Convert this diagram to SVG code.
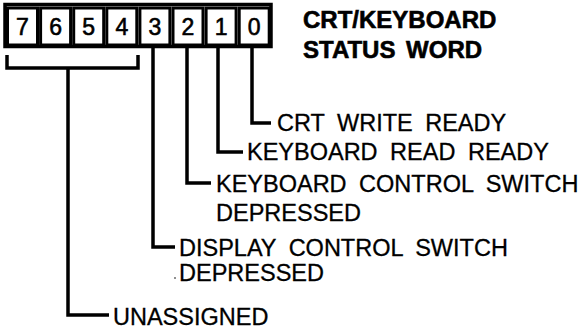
<svg xmlns="http://www.w3.org/2000/svg" width="586" height="331" viewBox="0 0 586 331">
<style>
.cell{fill:#fff;stroke:#000;stroke-width:3}
.digit{font-family:"Liberation Sans",Arial,sans-serif;font-size:23px;text-anchor:middle;fill:#000;stroke:#000;stroke-width:0.6}
.lbl{font-family:"Liberation Sans",Arial,sans-serif;font-size:23.5px;fill:#000;word-spacing:6px;stroke:#000;stroke-width:0.3}
.title{font-family:"Liberation Sans",Arial,sans-serif;font-size:24px;font-weight:bold;fill:#000;stroke:#000;stroke-width:0.6}
.wire{fill:none;stroke:#000;stroke-width:3.5}
</style>
<rect width="586" height="331" fill="#fff"/>
<g id="register">
<rect x="5" y="4.5" width="266" height="42" fill="#fff" stroke="#000" stroke-width="3.5"/>
<rect class="cell" x="7.5" y="8" width="30" height="37"/>
<rect class="cell" x="40.6" y="8" width="30" height="37"/>
<rect class="cell" x="73.7" y="8" width="30" height="37"/>
<rect class="cell" x="106.8" y="8" width="30" height="37"/>
<rect class="cell" x="139.9" y="8" width="30" height="37"/>
<rect class="cell" x="173" y="8" width="30" height="37"/>
<rect class="cell" x="206.1" y="8" width="30" height="37"/>
<rect class="cell" x="239.2" y="8" width="30" height="37"/>
<text class="digit" x="22.5" y="35">7</text>
<text class="digit" x="55.6" y="35">6</text>
<text class="digit" x="88.7" y="35">5</text>
<text class="digit" x="121.8" y="35">4</text>
<text class="digit" x="154.9" y="35">3</text>
<text class="digit" x="188" y="35">2</text>
<text class="digit" x="221.1" y="35">1</text>
<text class="digit" x="254.2" y="35">0</text>
</g>
<g id="title">
<text class="title" x="303" y="28">CRT/KEYBOARD</text>
<text class="title" x="303" y="58" style="word-spacing:4px">STATUS WORD</text>
</g>
<g id="connectors">
<path class="wire" d="M252,47 V123 H271"/>
<path class="wire" d="M218,47 V152 H243"/>
<path class="wire" d="M187,47 V183 H211"/>
<path class="wire" d="M153,47 V247 H175"/>
<path class="wire" d="M7,55 V68 H138 V55"/>
<path class="wire" d="M68,68 V315 H109"/>
</g>
<g id="bit0"><text class="lbl" x="277" y="131">CRT WRITE READY</text></g>
<g id="bit1"><text class="lbl" x="247" y="160">KEYBOARD READ READY</text></g>
<g id="bit2"><text class="lbl" x="216" y="192">KEYBOARD CONTROL SWITCH</text><text class="lbl" x="216" y="221">DEPRESSED</text></g>
<g id="bit3"><text class="lbl" x="179" y="256">DISPLAY CONTROL SWITCH</text><text class="lbl" x="179" y="281">DEPRESSED</text></g>
<g id="bits7-4"><text class="lbl" x="113" y="325">UNASSIGNED</text></g>
<circle cx="175" cy="278" r="0.8" fill="#000"/>
</svg>
